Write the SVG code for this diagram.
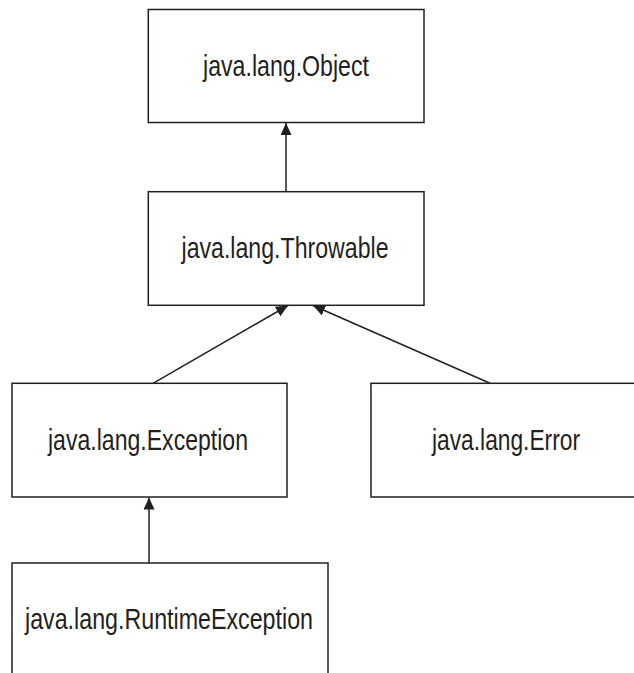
<svg xmlns="http://www.w3.org/2000/svg" width="634" height="673" viewBox="0 0 634 673">
  <style>
    .box { fill: #ffffff; stroke: #231f20; stroke-width: 1.5; }
    .lbl { font-family: "Liberation Sans", Arial, sans-serif; font-size: 29px; fill: #231f20; text-anchor: middle; }
    .edge { stroke: #231f20; stroke-width: 1.5; fill: none; marker-end: url(#arrow); }
  </style>
  <defs>
    <marker id="arrow" markerUnits="userSpaceOnUse" markerWidth="12" markerHeight="11" refX="12" refY="5.5" orient="auto">
      <path d="M0,0 L12,5.5 L0,11 Z" fill="#231f20"/>
    </marker>
  </defs>
  <rect width="634" height="673" fill="#ffffff"/>
  <g id="connectors">
    <line class="edge" x1="286" y1="191.7" x2="286" y2="123"/>
    <line class="edge" x1="153" y1="383.3" x2="288" y2="305.5"/>
    <line class="edge" x1="490" y1="383.3" x2="313" y2="305.5"/>
    <line class="edge" x1="149" y1="563" x2="149" y2="497.5"/>
  </g>
  <g id="node-object">
    <rect class="box" x="148.3" y="9.5" width="275.7" height="113"/>
    <text class="lbl" x="286" y="76" textLength="166" lengthAdjust="spacingAndGlyphs">java.lang.Object</text>
  </g>
  <g id="node-throwable">
    <rect class="box" x="148.3" y="191.7" width="275.7" height="113.6"/>
    <text class="lbl" x="285" y="258" textLength="207" lengthAdjust="spacingAndGlyphs">java.lang.Throwable</text>
  </g>
  <g id="node-exception">
    <rect class="box" x="12" y="383.3" width="275" height="113.7"/>
    <text class="lbl" x="148" y="450" textLength="200" lengthAdjust="spacingAndGlyphs">java.lang.Exception</text>
  </g>
  <g id="node-error">
    <rect class="box" x="371" y="383.3" width="276" height="113.7"/>
    <text class="lbl" x="506" y="450" textLength="148" lengthAdjust="spacingAndGlyphs">java.lang.Error</text>
  </g>
  <g id="node-runtimeexception">
    <rect class="box" x="12" y="563" width="316" height="120"/>
    <text class="lbl" x="169" y="629" textLength="288" lengthAdjust="spacingAndGlyphs">java.lang.RuntimeException</text>
  </g>
</svg>
